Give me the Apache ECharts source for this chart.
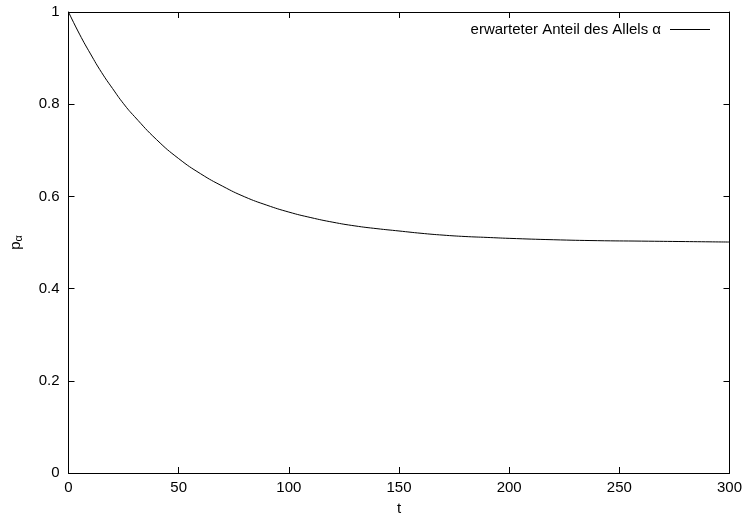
<!DOCTYPE html>
<html>
<head>
<meta charset="utf-8">
<script src="https://cdn.jsdelivr.net/npm/echarts@6/dist/echarts.min.js"></script>
<style>html,body{margin:0;padding:0;background:#fff}#c{width:745px;height:521px}</style>
</head>
<body>
<div id="c"></div>
<script>
const tValues = [0,5,10,15,20,25,30,40,50,60,70,80,90,100,110,120,130,140,150,160,170,180,190,200,220,240,260,280,300];
const pValues = [1.0,0.952,0.909,0.869,0.834,0.801,0.773,0.723,0.682,0.649,0.622,0.599,0.581,0.566,0.554,0.544,0.536,0.530,0.525,0.520,0.516,0.513,0.511,0.509,0.506,0.504,0.503,0.502,0.501];
const seriesName = 'erwarteter Anteil des Allels α';
const xTicks = [0,50,100,150,200,250,300];
const yTicks = [0,0.2,0.4,0.6,0.8,1];

const font = 'Liberation Sans, Arial, Helvetica, sans-serif';
const chart = echarts.init(document.getElementById('c'), null, {renderer:'canvas'});
const axisLine = {show:true, onZero:false, lineStyle:{color:'#000', width:1}};
const tick = {show:true, inside:true, length:6, lineStyle:{color:'#000'}};
chart.setOption({
  animation:false,
  backgroundColor:'#fff',
  grid:{left:68, right:13, top:12, bottom:42, containLabel:false},
  legend:{
    data:[seriesName], right:30, top:17, orient:'horizontal', align:'right',
    icon:'rect', itemWidth:40, itemHeight:1, itemGap:5,
    textStyle:{fontFamily:font, fontSize:15, color:'#000', padding:[0,4,0,0]}
  },
  xAxis:[{
    type:'value', min:xTicks[0], max:xTicks[xTicks.length-1], interval:50,
    name:'t', nameLocation:'middle', nameGap:28,
    nameTextStyle:{fontFamily:font, fontSize:15, color:'#000'},
    axisLine:axisLine, axisTick:tick, splitLine:{show:false},
    axisLabel:{fontFamily:font, fontSize:15, color:'#000', margin:7}
  },{
    type:'value', position:'top', min:xTicks[0], max:xTicks[xTicks.length-1], interval:50,
    axisLine:axisLine, axisTick:tick, splitLine:{show:false}, axisLabel:{show:false}
  }],
  yAxis:[{
    type:'value', min:yTicks[0], max:yTicks[yTicks.length-1], interval:0.2,
    name:'{p|p}{s|α}', nameLocation:'middle', nameGap:44, nameRotate:90,
    nameTextStyle:{fontFamily:font, color:'#000', rich:{p:{fontFamily:font,fontSize:15,color:'#000'}, s:{fontFamily:font,fontSize:11,color:'#000',verticalAlign:'bottom',padding:[7,0,0,0]}}},
    axisLine:axisLine, axisTick:tick, splitLine:{show:false},
    axisLabel:{fontFamily:font, fontSize:15, color:'#000', margin:9, formatter:function(v){return String(Math.round(v*10)/10);}}
  },{
    type:'value', position:'right', min:yTicks[0], max:yTicks[yTicks.length-1], interval:0.2,
    axisLine:axisLine, axisTick:tick, splitLine:{show:false}, axisLabel:{show:false}
  }],
  series:[{
    name:seriesName, type:'line', smooth:true, showSymbol:false, symbol:'none',
    data:tValues.map((t,i)=>[t,pValues[i]]),
    lineStyle:{color:'#000', width:1}, itemStyle:{color:'#000'}
  }]
});
</script>
</body>
</html>
